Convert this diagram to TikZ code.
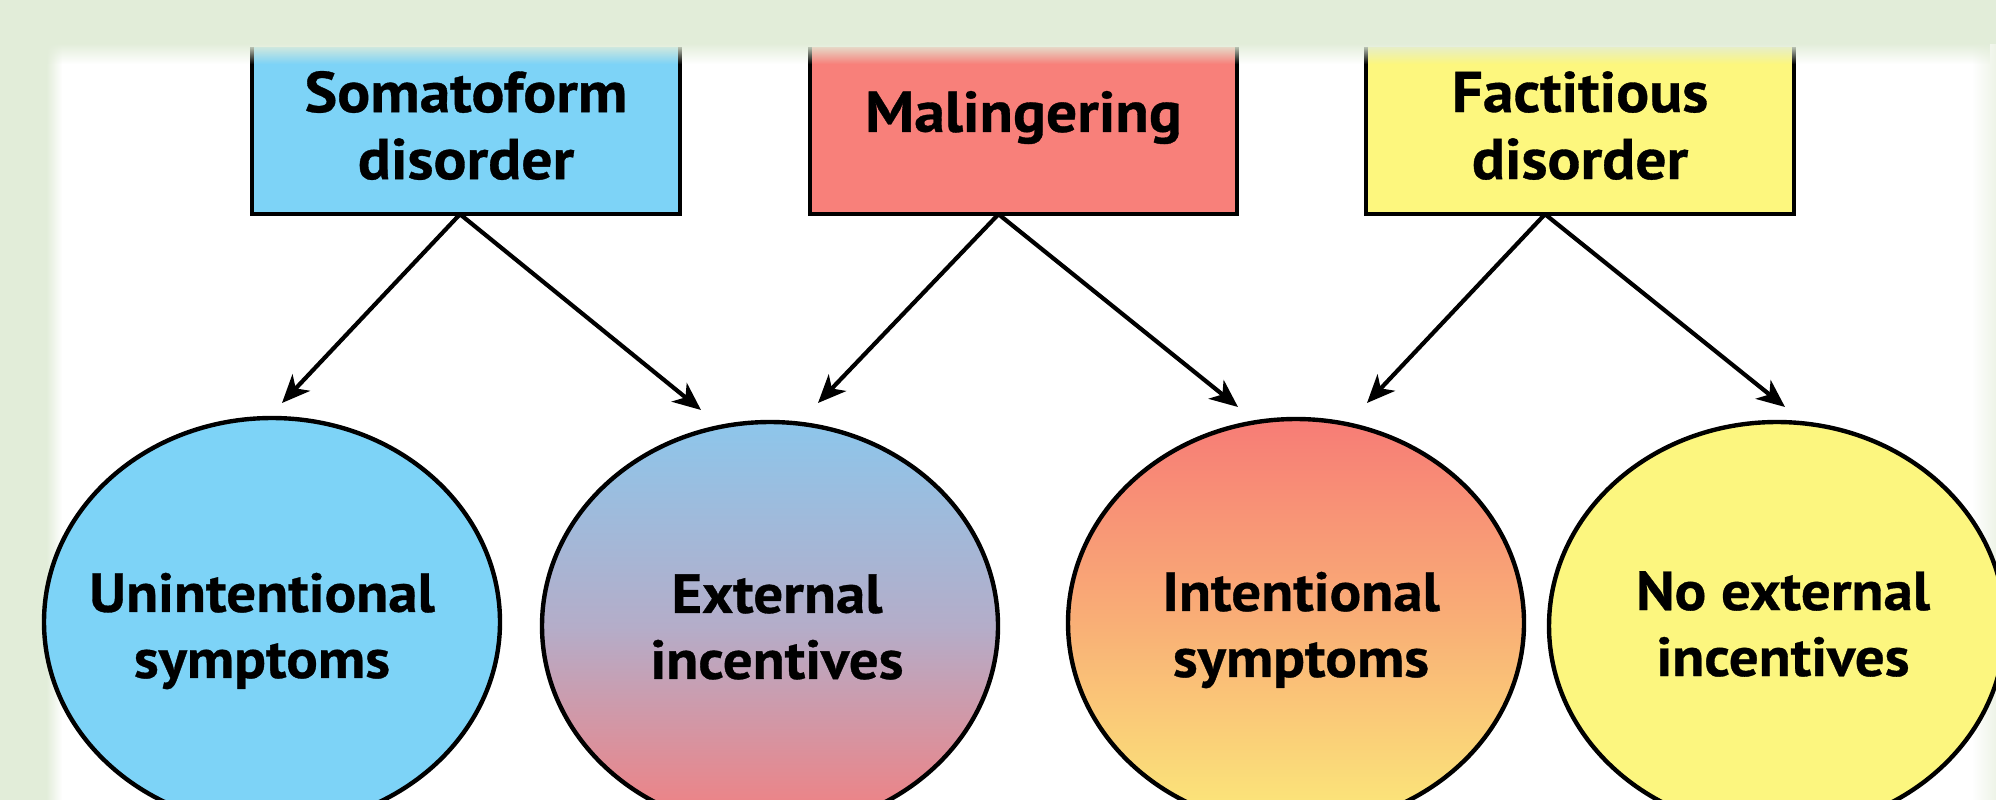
\documentclass[tikz,border=0pt]{standalone}
\usepackage{fontspec}
\setmainfont{PT Sans}
\newfontfamily\lblfont[FakeStretch=1.07,FakeBold=0.6]{PT Sans}
\usetikzlibrary{arrows.meta,calc,fadings,shapes.geometric}
\definecolor{bggreen}{HTML}{E2EDD9}
\definecolor{skyb}{HTML}{7DD3F7}
\definecolor{salmon}{HTML}{F8807A}
\definecolor{lemon}{HTML}{FDF77E}
\definecolor{ctwoT}{HTML}{8DC6EB}
\definecolor{ctwoM}{HTML}{B4ADC9}
\definecolor{ctwoB}{HTML}{F47E7E}
\definecolor{cthrT}{HTML}{F77C76}
\definecolor{cthrM}{HTML}{F9AF76}
\definecolor{cthrB}{HTML}{FBEA7A}
\definecolor{ylw}{HTML}{FCF67F}
\begin{document}
\begin{tikzpicture}[x=1pt,y=-1pt,
  box/.style={rectangle,minimum width=427pt,minimum height=167pt,inner sep=0pt},
  boxline/.style={line width=4pt,black},
  lbl/.style={align=center,inner sep=0pt,font=\lblfont\fontsize{55}{66}\selectfont\bfseries},
  boxlbl/.style={lbl,font=\lblfont\fontsize{57.5}{67}\selectfont\bfseries},
  bub/.style={ellipse,draw=black,line width=4.4pt,minimum width=456pt,minimum height=408pt,inner sep=0pt},
  arr/.style={line width=4.2pt,-{Stealth[length=28pt,width=24pt,inset=8pt]}}]
\useasboundingbox (0,0) rectangle (1996,800);
\clip (0,0) rectangle (1996,800);
\fill[white] (0,0) rectangle (1996,800);
\fill[bggreen] (0,0) rectangle (1996,44);
\fill[bggreen] (0,0) rectangle (46,800);
\fill[bggreen,path fading=east] (46,44) rectangle (62,800);
\fill[bggreen!60,path fading=west] (1972,44) rectangle (1996,800);
% boxes
\node[box,fill=skyb] (som) at (466,130.5) {};
\node[box,fill=salmon] (mal) at (1023.5,130.5) {};
\node[box,fill=lemon] (fac) at (1580,130.5) {};
\foreach \b in {som,mal,fac}
  \draw[boxline] (\b.north west) -- (\b.south west) -- (\b.south east) -- (\b.north east);
\fill[bggreen,path fading=south] (0,43) rectangle (1996,64);
\node[boxlbl] (somt) at ($(som)+(0,-5)$) {Somatoform\\disorder};
\node[boxlbl] (malt) at ($(mal)+(0,-13)$) {Malingering};
\node[boxlbl] (fact) at ($(fac)+(0,-5)$) {Factitious\\disorder};
% ellipses
\node[bub,fill=skyb] (e1) at (272,622) {};
\node[bub,top color=ctwoT,bottom color=ctwoB,middle color=ctwoM] (e2) at (770,626) {};
\node[bub,top color=cthrT,bottom color=cthrB,middle color=cthrM] (e3) at (1296,623) {};
\node[bub,fill=ylw] (e4) at (1777,626) {};
\node[lbl] (e1t) at ($(e1)+(-10,9)$) {Unintentional\\symptoms};
\node[lbl] (e2t) at ($(e2)+(7,1)$) {External\\incentives};
\node[lbl] (e3t) at ($(e3)+(5,7)$) {Intentional\\symptoms};
\node[lbl] (e4t) at ($(e4)+(6,-2)$) {No external\\incentives};
% arrow ends
\coordinate (som-o) at ($(som.south)+(-6,0)$);
\coordinate (mal-o) at ($(mal.south)+(-25,0)$);
\coordinate (fac-o) at ($(fac.south)+(-35,0)$);
\coordinate (e1-in) at (282,403);
\coordinate (e2-inl) at (701,410);
\coordinate (e2-inr) at (818,403);
\coordinate (e3-inl) at (1238,407);
\coordinate (e3-inr) at (1367,403);
\coordinate (e4-in) at (1785,407);
\draw[arr] (som-o) -- (e1-in);
\draw[arr] (som-o) -- (e2-inl);
\draw[arr] (mal-o) -- (e2-inr);
\draw[arr] (mal-o) -- (e3-inl);
\draw[arr] (fac-o) -- (e3-inr);
\draw[arr] (fac-o) -- (e4-in);
\end{tikzpicture}
\end{document}
